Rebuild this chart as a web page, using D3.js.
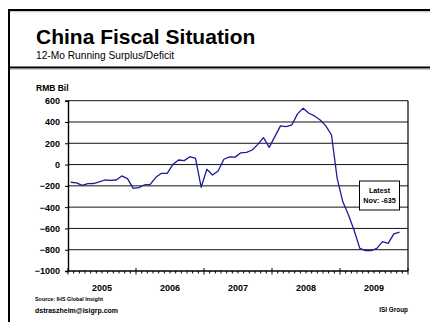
<!DOCTYPE html>
<html>
<head>
<meta charset="utf-8">
<script src="https://cdn.jsdelivr.net/npm/d3@7"></script>
<style>
  html, body { margin: 0; padding: 0; background: #fff; }
  svg { display: block; }
  text { font-family: "Liberation Sans", Arial, sans-serif; }
</style>
</head>
<body>
<svg id="chart" width="430" height="322"></svg>
<script>
// Calendar years shown on the category axis (12 monthly slots each)
const years = ["2005", "2006", "2007", "2008", "2009"];
const monthNames = ["Jan", "Feb", "Mar", "Apr", "May", "Jun", "Jul", "Aug", "Sep", "Oct", "Nov", "Dec"];

// 12-month running fiscal balance, RMB bil, Jan 2005 – Nov 2009
const balance = [
  -166, -172, -195, -179, -178, -163, -145, -148, -145, -107, -132, -223,
  -217, -190, -186, -120, -82, -82, 0, 43, 37, 74, 59, -213,
  -44, -98, -60, 50, 72, 70, 110, 115, 137, 190, 253, 162,
  262, 363, 356, 372, 476, 530, 482, 457, 419, 363, 278, -130,
  -350, -474, -620, -787, -809, -809, -787, -724, -740, -652, -635
];

// Value-axis ticks
const yTicks = [600, 400, 200, 0, -200, -400, -600, -800, -1000];

// Latest reading callout
const latestLabel = "Latest";
const latestMonth = "Nov";

const svg = d3.select("#chart");

// Monthly category slots across all years
const slots = years.flatMap(y => monthNames.map(m => `${m} ${y}`));
const series = balance.map((v, i) => ({ slot: slots[i], value: v }));

const plot = { left: 68, right: 408, top: 100.7, bottom: 271 };

const x = d3.scaleBand().domain(slots).range([plot.left, plot.right]).paddingInner(0).paddingOuter(0);
const y = d3.scaleLinear().domain([-1000, 600]).range([plot.bottom, plot.top]);
const cx = s => x(s) + x.bandwidth() / 2;

// Outer frame: top rule, left rule, and heading separator
svg.append("line").attr("x1", 9).attr("x2", 430).attr("y1", 10).attr("y2", 10)
  .attr("stroke", "#000").attr("stroke-width", 2);
svg.append("line").attr("x1", 9).attr("x2", 430).attr("y1", 11.8).attr("y2", 11.8)
  .attr("stroke", "#bbb").attr("stroke-width", 1);
svg.append("line").attr("x1", 9).attr("x2", 9).attr("y1", 9).attr("y2", 322)
  .attr("stroke", "#000").attr("stroke-width", 2);
svg.append("line").attr("x1", 9).attr("x2", 430).attr("y1", 67.5).attr("y2", 67.5)
  .attr("stroke", "#000").attr("stroke-width", 2);
svg.append("line").attr("x1", 10).attr("x2", 430).attr("y1", 69.3).attr("y2", 69.3)
  .attr("stroke", "#bbb").attr("stroke-width", 1);

// Heading
svg.append("text").attr("x", 36).attr("y", 44)
  .attr("font-size", 21).attr("font-weight", "bold").attr("fill", "#000")
  .text("China Fiscal Situation");
svg.append("text").attr("x", 36).attr("y", 58.5)
  .attr("font-size", 10.2).attr("fill", "#000")
  .text("12-Mo Running Surplus/Deficit");

// Unit label
svg.append("text").attr("x", 36).attr("y", 90.5)
  .attr("font-size", 8.5).attr("font-weight", "bold").text("RMB Bil");

// Horizontal gridlines
svg.append("g").selectAll("line").data(yTicks.filter(t => t !== -1000)).join("line")
  .attr("x1", plot.left).attr("x2", plot.right)
  .attr("y1", d => y(d)).attr("y2", d => y(d))
  .attr("stroke", "#111").attr("stroke-width", 1);

// Right frame edge
svg.append("line").attr("x1", plot.right).attr("x2", plot.right)
  .attr("y1", plot.top).attr("y2", plot.bottom)
  .attr("stroke", "#000").attr("stroke-width", 1.2);

// Value axis
const yAxis = svg.append("g").attr("transform", `translate(${plot.left},0)`)
  .call(d3.axisLeft(y).tickValues(yTicks).tickSize(3).tickPadding(5).tickFormat(d3.format("d")));
yAxis.select(".domain").attr("stroke", "#000").attr("stroke-width", 1.4);
yAxis.selectAll(".tick line").attr("stroke", "#000");
yAxis.selectAll(".tick text")
  .attr("font-family", "'Liberation Sans', Arial, sans-serif")
  .attr("font-size", 9).attr("font-weight", "bold").attr("fill", "#000");

// Category axis: baseline, monthly minor ticks, yearly major ticks
const xAxisG = svg.append("g");
xAxisG.append("line").attr("x1", plot.left).attr("x2", plot.right)
  .attr("y1", plot.bottom).attr("y2", plot.bottom)
  .attr("stroke", "#000").attr("stroke-width", 1.4);
const boundaries = slots.map(s => x(s)).concat([plot.right]);
xAxisG.selectAll("line.minor").data(boundaries.filter((b, i) => i % 12 !== 0)).join("line")
  .attr("class", "minor")
  .attr("x1", d => d).attr("x2", d => d)
  .attr("y1", plot.bottom).attr("y2", plot.bottom + 2.5)
  .attr("stroke", "#000").attr("stroke-width", 1);
xAxisG.selectAll("line.major").data(boundaries.filter((b, i) => i % 12 === 0)).join("line")
  .attr("class", "major")
  .attr("x1", d => d).attr("x2", d => d)
  .attr("y1", plot.bottom - 3).attr("y2", plot.bottom + 3.5)
  .attr("stroke", "#000").attr("stroke-width", 1);
xAxisG.selectAll("text.year").data(years).join("text")
  .attr("class", "year")
  .attr("x", (yr, i) => (x(slots[i * 12]) + x(slots[i * 12 + 11]) + x.bandwidth()) / 2)
  .attr("y", 290.5)
  .attr("text-anchor", "middle")
  .attr("font-size", 9).attr("font-weight", "bold").attr("fill", "#000")
  .text(d => d);

// Balance line
const line = d3.line().x(d => cx(d.slot)).y(d => y(d.value));
svg.append("path").datum(series)
  .attr("d", line)
  .attr("fill", "none")
  .attr("stroke", "#1c1c96")
  .attr("stroke-width", 1.3)
  .attr("stroke-linejoin", "round");

// Latest-value callout
const last = series[series.length - 1];
const box = svg.append("g").attr("transform", "translate(359.5,181)");
box.append("rect").attr("width", 40).attr("height", 29)
  .attr("fill", "#fff").attr("stroke", "#000").attr("stroke-width", 1);
box.append("text").attr("x", 20).attr("y", 11.8).attr("text-anchor", "middle")
  .attr("font-size", 7.2).attr("font-weight", "bold").text(latestLabel);
box.append("text").attr("x", 20).attr("y", 21.8).attr("text-anchor", "middle")
  .attr("font-size", 7.2).attr("font-weight", "bold").text(`${latestMonth}: ${last.value}`);

// Footer
svg.append("text").attr("x", 35).attr("y", 300.5)
  .attr("font-family", "'Liberation Serif', 'Times New Roman', serif")
  .attr("font-size", 5.4).attr("font-weight", "bold").text("Source: IHS Global Insight");
svg.append("text").attr("x", 35).attr("y", 312.8)
  .attr("font-size", 7).attr("font-weight", "bold").text("dstraszheim@isigrp.com");
svg.append("text").attr("x", 408).attr("y", 311.8).attr("text-anchor", "end")
  .attr("font-family", "'Liberation Serif', 'Times New Roman', serif")
  .attr("font-size", 6.4).attr("font-weight", "bold").text("ISI Group");
</script>
</body>
</html>
